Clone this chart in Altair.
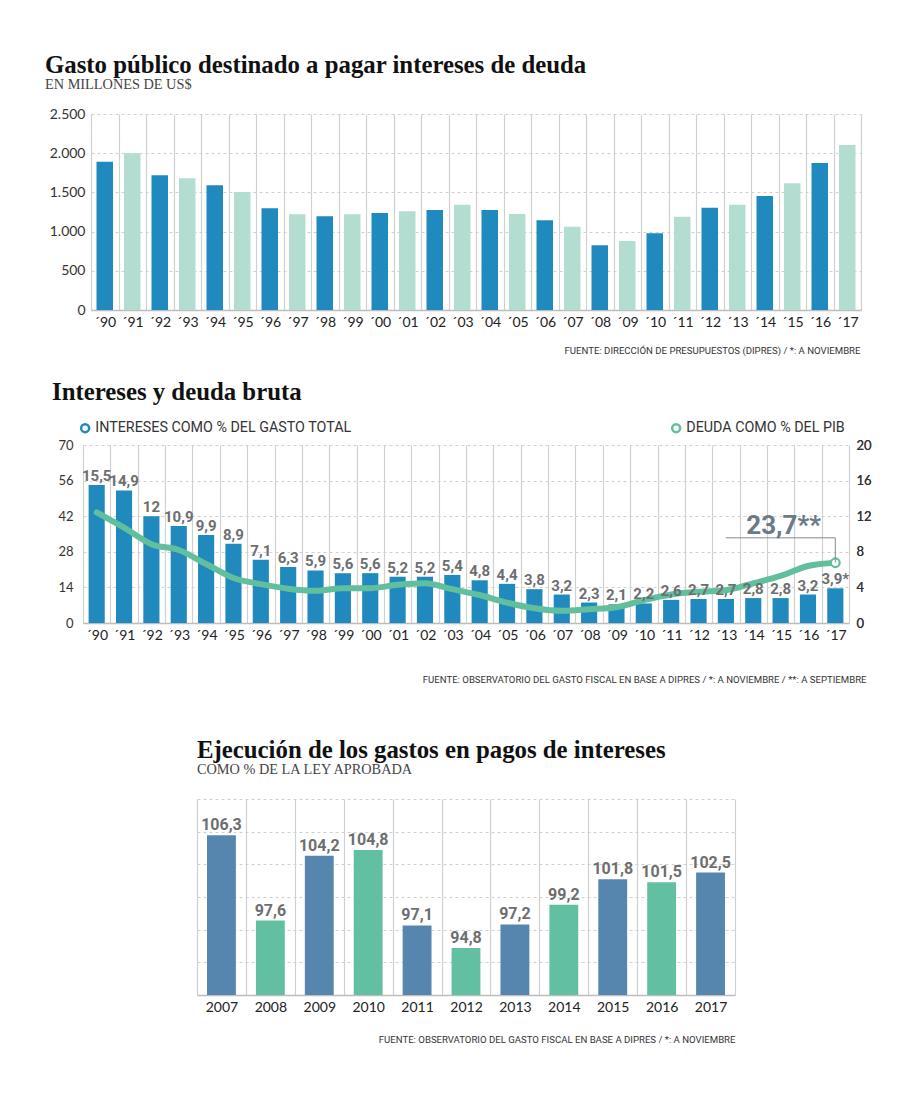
import altair as alt
import pandas as pd

# ---------------- data ----------------
years = ["´90", "´91", "´92", "´93", "´94", "´95", "´96", "´97", "´98", "´99",
         "´00", "´01", "´02", "´03", "´04", "´05", "´06", "´07", "´08", "´09",
         "´10", "´11", "´12", "´13", "´14", "´15", "´16", "´17"]
gasto_intereses = [1890, 2000, 1720, 1680, 1590, 1505, 1297, 1220, 1195, 1220,
                   1237, 1259, 1275, 1343, 1275, 1224, 1144, 1063, 825, 880,
                   978, 1190, 1305, 1343, 1454, 1616, 1875, 2105]
grupo1 = ["a", "b"] * 14

intereses_pct = [15.5, 14.9, 12, 10.9, 9.9, 8.9, 7.1, 6.3, 5.9, 5.6,
                 5.6, 5.2, 5.2, 5.4, 4.8, 4.4, 3.8, 3.2, 2.3, 2.1,
                 2.2, 2.6, 2.7, 2.7, 2.8, 2.8, 3.2, 3.9]
intereses_lbl = ["15,5", "14,9", "12", "10,9", "9,9", "8,9", "7,1", "6,3", "5,9", "5,6",
                 "5,6", "5,2", "5,2", "5,4", "4,8", "4,4", "3,8", "3,2", "2,3", "2,1",
                 "2,2", "2,6", "2,7", "2,7", "2,8", "2,8", "3,2", "3,9*"]
deuda_pib = [43.5, 37.5, 31.0, 28.7, 23.2, 17.7, 15.3, 13.5, 12.7, 13.7,
             13.7, 15.0, 15.6, 13.3, 11.0, 8.0, 5.8, 4.8, 5.4, 6.2,
             9.0, 11.2, 12.3, 12.9, 15.6, 18.5, 22.4, 23.7]
serie_a = "INTERESES COMO % DEL GASTO TOTAL"
serie_b = "DEUDA COMO % DEL PIB"

anios3 = ["2007", "2008", "2009", "2010", "2011", "2012", "2013", "2014", "2015", "2016", "2017"]
ejecucion = [106.3, 97.6, 104.2, 104.8, 97.1, 94.8, 97.2, 99.2, 101.8, 101.5, 102.5]
ejecucion_lbl = ["106,3", "97,6", "104,2", "104,8", "97,1", "94,8", "97,2", "99,2", "101,8", "101,5", "102,5"]
grupo3 = ["a", "b", "a", "b", "a", "b", "a", "b", "a", "b", "a"]

# ---------------- styles ----------------
SERIF = "Liberation Serif"
SANS = "Roboto"
AXF = "Lato"
BLUE1, MINT1 = "#2089bd", "#b4ddd2"
BLUE2, MINT2 = "#2089bd", "#62bf9e"
BLUE3, MINT3 = "#5686ae", "#63bfa2"
LBL = "#6d6e70"
GRID = "#d0d0d0"
SRC_SIZE = 9.6

def title(text, sub, dx, offset):
    kw = dict(text=text, anchor="start", frame="group", dx=dx, offset=offset,
              font=SERIF, fontSize=24.8, fontWeight="bold", color="#111")
    if sub:
        kw.update(subtitle=sub, subtitleFont=SERIF, subtitleFontSize=14.3,
                  subtitleColor="#444", subtitlePadding=0)
    return alt.Title(**kw)

def xaxis(src, tx, ty):
    return alt.Axis(title=src, titleX=tx, titleY=ty, titleAlign="right", titleBaseline="alphabetic",
                    titleFont=SANS, titleFontSize=SRC_SIZE, titleFontWeight="normal", titleColor="#333",
                    labelAngle=0, labelFont=AXF, labelFontSize=14, labelColor="#222", labelPadding=5,
                    ticks=False, grid=True, gridColor=GRID, gridWidth=1.2, tickBand="extent",
                    domainColor="#bdbdbd", domainWidth=1.5)

# ---------------- chart 1 ----------------
df1 = pd.DataFrame({"anio": years, "valor": gasto_intereses, "grupo": grupo1})
c1 = alt.Chart(df1, title=title("Gasto público destinado a pagar intereses de deuda",
                                 "EN MILLONES DE US$", -46, 15)).mark_bar(
    width=alt.RelativeBandSize(0.6)
).encode(
    x=alt.X("anio:N", scale=alt.Scale(domain=years, paddingInner=0, paddingOuter=0),
            axis=xaxis("FUENTE: DIRECCIÓN DE PRESUPUESTOS (DIPRES) / *: A NOVIEMBRE", 769, 43)),
    y=alt.Y("valor:Q", scale=alt.Scale(domain=[0, 2500]),
            axis=alt.Axis(values=[0, 500, 1000, 1500, 2000, 2500], title=None,
                          labelExpr="replace(format(datum.value, ','), ',', '.')",
                          labelFont=AXF, labelFontSize=14, labelColor="#333", labelPadding=6,
                          labelOverlap=False,
                          grid=True, gridDash=[3, 3], gridColor=GRID, domain=False, ticks=False,
                          minExtent=46, maxExtent=46)),
    color=alt.Color("grupo:N", scale=alt.Scale(domain=["a", "b"], range=[BLUE1, MINT1]), legend=None),
).properties(width=770, height=196)

# ---------------- chart 2 ----------------
df2 = pd.DataFrame({"anio": years, "intereses": intereses_pct, "deuda": deuda_pib,
                    "lbl": intereses_lbl, "s1": serie_a, "s2": serie_b})
ANN_LEVEL = 33.5
ann = pd.DataFrame({"xa": ["´13"], "xb": ["´17"], "xt": ["´15"], "nivel": [ANN_LEVEL],
                    "fin": [deuda_pib[-1]], "texto": ["23,7**"]})

ax2 = xaxis("FUENTE: OBSERVATORIO DEL GASTO FISCAL EN BASE A DIPRES / *: A NOVIEMBRE / **: A SEPTIEMBRE", 783, 59)
sc2 = alt.Scale(domain=years, paddingInner=0, paddingOuter=0)

def X2(field):
    return alt.X(field, type="nominal", scale=sc2, axis=ax2)

axR = alt.Axis(orient="right", values=[0, 4, 8, 12, 16, 20], title=None, grid=False,
               domain=False, ticks=False, labelFont=AXF, labelFontSize=13,
               labelColor="#333", labelPadding=7, labelOverlap=False)
axL = alt.Axis(orient="left", values=[0, 14, 28, 42, 56, 70], title=None,
               grid=True, gridDash=[3, 3], gridColor=GRID, domain=False, ticks=False,
               labelFont=AXF, labelFontSize=13, labelColor="#333", labelPadding=10,
               labelOverlap=False, minExtent=38, maxExtent=38)
yr = alt.Scale(domain=[0, 20])
yl = alt.Scale(domain=[0, 70])

def YR(field):
    return alt.Y(field, type="quantitative", scale=yr, axis=axR)

def YL(field):
    return alt.Y(field, type="quantitative", scale=yl, axis=axL)

def legend(x):
    return alt.Legend(title=None, orient="none", legendX=x, legendY=-24, padding=0,
                      symbolType="circle", symbolSize=64, symbolStrokeWidth=2.5,
                      labelFont=SANS, labelFontSize=14.3, labelColor="#333", labelOffset=3,
                      labelLimit=400)

bars2 = alt.Chart(df2).mark_bar(width=alt.RelativeBandSize(0.59), color=BLUE2).encode(
    x=X2("anio"), y=YR("intereses"))
labels2 = alt.Chart(df2).mark_text(font=SANS, fontSize=15, fontWeight="bold", color=LBL,
                                   baseline="alphabetic", dy=-4).encode(
    x=X2("anio"), y=YR("intereses"), text="lbl:N")
leg_a = alt.Chart(df2).transform_filter("false").mark_point(
    filled=False, strokeWidth=2.5, size=64, opacity=1, shape="circle").encode(
    color=alt.Color("s1:N", scale=alt.Scale(domain=[serie_a], range=[BLUE2]), legend=legend(-5)))
leg_b = alt.Chart(df2).transform_filter("false").mark_point(
    filled=False, strokeWidth=2.5, size=64, opacity=1, shape="circle").encode(
    stroke=alt.Stroke("s2:N", scale=alt.Scale(domain=[serie_b], range=[MINT2]), legend=legend(586)))

line2 = alt.Chart(df2).mark_line(interpolate="monotone", strokeWidth=6, strokeCap="round",
                                 color=MINT2).encode(x=X2("anio"), y=YL("deuda"))
endpt = alt.Chart(df2).transform_filter(alt.datum.anio == "´17").mark_point(
    filled=True, fill="white", stroke=MINT2, strokeWidth=2.2, size=75, opacity=1
).encode(x=X2("anio"), y=YL("deuda"))
rule_h = alt.Chart(ann).mark_rule(color="#8a8a8a", strokeWidth=1).encode(
    x=X2("xa"), x2="xb:N", y=YL("nivel"))
rule_v = alt.Chart(ann).mark_rule(color="#8a8a8a", strokeWidth=1).encode(
    x=X2("xb"), y=YL("nivel"), y2="fin:Q")
ann_txt = alt.Chart(ann).mark_text(font=SANS, fontSize=26, fontWeight="bold", color="#6b7a86",
                                   baseline="alphabetic", dy=-4, dx=3).encode(
    x=X2("xt"), y=YL("nivel"), text="texto:N")

right_grp = alt.layer(bars2, leg_a, leg_b)
left_grp = alt.layer(line2, endpt, rule_h, rule_v, ann_txt)
lab_grp = alt.layer(labels2)

c2 = alt.layer(right_grp, left_grp, lab_grp,
               title=title("Intereses y deuda bruta", None, -31, 16)).resolve_scale(
    y="independent").properties(width=766, height=178)

# ---------------- chart 3 ----------------
df3 = pd.DataFrame({"anio": anios3, "valor": ejecucion, "lbl": ejecucion_lbl, "grupo": grupo3})
x3 = alt.X("anio:N", scale=alt.Scale(domain=anios3, paddingInner=0, paddingOuter=0),
           axis=xaxis("FUENTE: OBSERVATORIO DEL GASTO FISCAL EN BASE A DIPRES / *: A NOVIEMBRE", 538, 47))
ys3 = alt.Scale(domain=[90, 110], zero=False)
ax3 = alt.Axis(values=[90, 93.333, 96.667, 100, 103.333, 106.667, 110], title=None,
               labels=False, ticks=False, domain=False, grid=True, gridDash=[3, 3],
               gridColor=GRID)
bars3 = alt.Chart(df3).mark_bar(width=alt.RelativeBandSize(0.59)).encode(
    x=x3,
    y=alt.Y("valor:Q", scale=ys3, axis=ax3),
    y2=alt.datum(90),
    color=alt.Color("grupo:N", scale=alt.Scale(domain=["a", "b"], range=[BLUE3, MINT3]), legend=None),
)
labels3 = alt.Chart(df3).mark_text(font=SANS, fontSize=16, fontWeight="bold", color=LBL,
                                   baseline="alphabetic", dy=-5).encode(
    x=x3, y=alt.Y("valor:Q", scale=ys3, axis=ax3), text="lbl:N")
c3 = alt.layer(bars3, labels3,
               title=title("Ejecución de los gastos en pagos de intereses",
                           "COMO % DE LA LEY APROBADA", 0, 22)).properties(width=538, height=196)

# ---------------- layout ----------------
def indep(c):
    return c.resolve_scale(color="independent", stroke="independent").resolve_legend(
        color="independent", stroke="independent")

def spacer(w):
    return alt.Chart(pd.DataFrame({"v": [0]})).transform_filter("false").mark_point().encode(
        x=alt.X("v:Q", axis=None), y=alt.Y("v:Q", axis=None)).properties(width=w, height=4)

def row(c, w):
    return indep(alt.hconcat(spacer(w), c, spacing=0))

top = indep(alt.vconcat(row(c1, 1), row(c2, 1), spacing=25))
chart = indep(alt.vconcat(top, row(c3, 153), spacing=53)).properties(
    padding={"left": 36, "top": 44, "right": 4, "bottom": 10}
).configure(background="white").configure_view(strokeWidth=0)

chart.save("out.html", embed_options={"renderer": "svg", "actions": False})
